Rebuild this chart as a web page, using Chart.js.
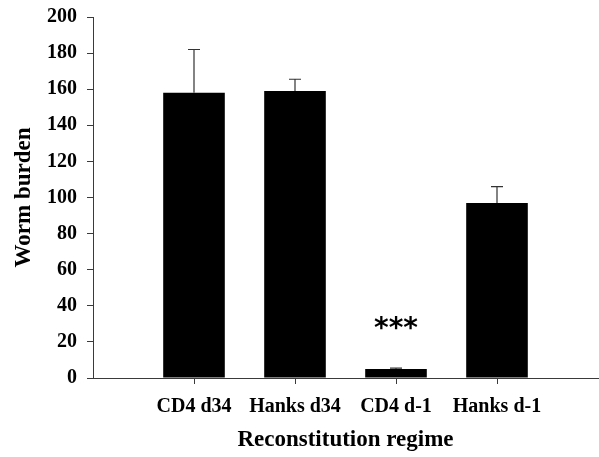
<!DOCTYPE html>
<html>
<head>
<meta charset="utf-8">
<script src="https://cdn.jsdelivr.net/npm/chart.js@4.4.0/dist/chart.umd.min.js"></script>
<style>
  html, body { margin: 0; padding: 0; background: #fff; }
  #wrap { width: 599px; height: 457px; }
</style>
</head>
<body>
<div id="wrap"><canvas id="chart"></canvas></div>
<script>
// categories (empty slots at both ends so bars sit on the tick marks)
const categories = ['', 'CD4 d34', 'Hanks d34', 'CD4 d-1', 'Hanks d-1', ''];
// mean worm burden per group
const wormBurden = [null, 158, 159, 5, 97, null];
// upper error (SEM) per group
const errorUp = [null, 24, 6.5, 0.5, 9, null];
// significance marks shown above bars
const sigLabels = [null, null, null, '***', null, null];
const sigLevels = [null, null, null, 29, null, null];
const yTicks = [0, 20, 40, 60, 80, 100, 120, 140, 160, 180, 200];

const axisColor = '#3a3a3a';
const serif = "'Liberation Serif', 'Times New Roman', serif";

// draws the upward error bars and the *** marks
const errorBarPlugin = {
  id: 'errorBars',
  afterDatasetsDraw(chart) {
    const ctx = chart.ctx;
    const yScale = chart.scales.y;
    const meta = chart.getDatasetMeta(0);
    ctx.save();
    ctx.strokeStyle = '#333';
    ctx.lineWidth = 1.2;
    meta.data.forEach((bar, i) => {
      if (wormBurden[i] == null || errorUp[i] == null) return;
      const yBase = yScale.getPixelForValue(wormBurden[i]);
      const yTop = yScale.getPixelForValue(wormBurden[i] + errorUp[i]);
      ctx.beginPath();
      ctx.moveTo(bar.x, yBase);
      ctx.lineTo(bar.x, yTop);
      ctx.moveTo(bar.x - 6, yTop);
      ctx.lineTo(bar.x + 6, yTop);
      ctx.stroke();
    });
    ctx.fillStyle = '#000';
    ctx.font = "bold 28px 'DejaVu Sans'";
    ctx.textAlign = 'center';
    ctx.textBaseline = 'middle';
    meta.data.forEach((bar, i) => {
      if (!sigLabels[i]) return;
      ctx.fillText(sigLabels[i], bar.x, yScale.getPixelForValue(sigLevels[i]) + 4);
    });
    ctx.restore();
  }
};

new Chart(document.getElementById('chart'), {
  type: 'bar',
  data: {
    labels: categories,
    datasets: [{
      data: wormBurden,
      backgroundColor: '#000',
      borderColor: '#000',
      borderWidth: 0,
      barPercentage: 0.61,
      categoryPercentage: 1
    }]
  },
  plugins: [errorBarPlugin],
  options: {
    responsive: true,
    maintainAspectRatio: false,
    animation: false,
    layout: { padding: { top: 17, right: 1, left: 0, bottom: 0 } },
    plugins: {
      legend: { display: false },
      tooltip: { enabled: false }
    },
    scales: {
      x: {
        offset: false,
        grid: {
          offset: false,
          drawOnChartArea: false,
          drawTicks: true,
          tickLength: 6,
          color: axisColor,
          tickColor: (c) => (c.index >= 1 && c.index <= 4 ? axisColor : 'rgba(0,0,0,0)')
        },
        border: { display: true, color: axisColor, width: 1 },
        ticks: {
          color: '#000',
          padding: 11,
          maxRotation: 0,
          autoSkip: false,
          font: { family: serif, size: 20, weight: 'bold' }
        },
        title: {
          display: true,
          text: 'Reconstitution regime',
          color: '#000',
          font: { family: serif, size: 23, weight: 'bold' },
          padding: { top: 0, bottom: 3 }
        },
        afterFit(scale) {
          scale.height = 79;
          scale.paddingLeft = 0;
          scale.paddingRight = 0;
        }
      },
      y: {
        min: 0,
        max: 200,
        afterBuildTicks(scale) { scale.ticks = yTicks.map(v => ({ value: v })); },
        grid: {
          drawOnChartArea: false,
          drawTicks: true,
          tickLength: 6,
          color: axisColor
        },
        border: { display: true, color: axisColor, width: 1 },
        ticks: {
          color: '#000',
          padding: 10,
          font: { family: serif, size: 20, weight: 'bold' }
        },
        title: {
          display: true,
          text: 'Worm burden',
          color: '#000',
          font: { family: serif, size: 23, weight: 'bold' },
          padding: { top: 10, bottom: 0 }
        },
        afterFit(scale) {
          scale.width = 93;
          scale.paddingTop = 0;
          scale.paddingBottom = 0;
        }
      }
    }
  }
});
</script>
</body>
</html>
